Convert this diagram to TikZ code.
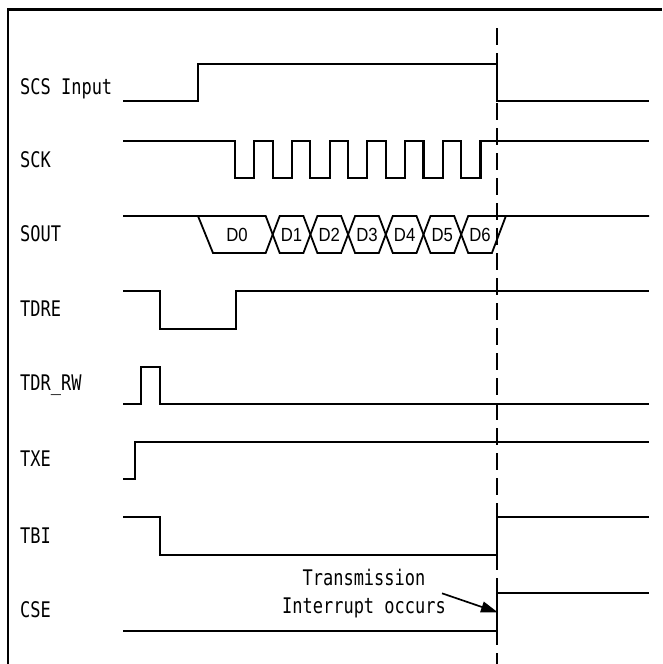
\documentclass[tikz,border=0pt]{standalone}
\usepackage{fontspec}
\newfontfamily\labfont[FakeStretch=0.79]{DejaVu Sans Mono}
\newfontfamily\datafont[FakeStretch=0.88]{Liberation Sans}
\usetikzlibrary{arrows.meta}
\begin{document}
\begin{tikzpicture}[x=1pt,y=-1pt,
  sig/.style={line width=2.1pt, line join=miter},
  bus/.style={line width=1.8pt, line join=miter},
  lab/.style={anchor=west, inner sep=0pt, font=\labfont\fontsize{21.5}{24}\selectfont},
  dat/.style={inner sep=0pt, font=\datafont\fontsize{19}{22}\selectfont}]
\useasboundingbox (0,0) rectangle (662,664);
\fill[white] (0,0) rectangle (662,664);
% frame
\draw[line width=2.1pt] (8,664) -- (8,9.5) -- (662,9.5);
% dashed marker
\draw[line width=1.7pt, dash pattern=on 17pt off 8pt] (497,28) -- (497,664);
% labels
\node[lab] (lscs) at (20,89) {SCS Input};
\node[lab] (lsck) at (20,160) {SCK};
\node[lab] (lsout) at (20,234) {SOUT};
\node[lab] (ltdre) at (20,309) {TDRE};
\node[lab] (ltdrrw) at (20,385) {TDR\_RW};
\node[lab] (ltxe) at (20,459) {TXE};
\node[lab] (ltbi) at (20,536) {TBI};
\node[lab] (lcse) at (20,610) {CSE};
% SCS Input
\draw[sig] (123,101) -- (198,101) -- (198,64) -- (497,64) -- (497,101) -- (649,101);
% SCK
\draw[sig] (123,141) -- (235,141) -- (235,178) -- (254.3,178) -- (254.3,141) -- (272.7,141) -- (272.7,178) -- (292,178) -- (292,141) -- (310.4,141) -- (310.4,178) -- (329.7,178) -- (329.7,141) -- (348.1,141) -- (348.1,178) -- (367.4,178) -- (367.4,141) -- (385.8,141) -- (385.8,178) -- (405.1,178) -- (405.1,141) -- (423.5,141) -- (423.5,178) -- (442.8,178) -- (442.8,141) -- (461.2,141) -- (461.2,178) -- (480.5,178) -- (480.5,141) -- (649,141);
% SOUT
\draw[bus] (123,216) -- (265.7,216) -- (279.7,253) -- (303.4,253) -- (317.4,216) -- (341.1,216) -- (355.1,253) -- (378.8,253) -- (392.8,216) -- (416.5,216) -- (430.5,253) -- (454.2,253) -- (468.2,216) -- (649,216);
\draw[bus] (198,216) -- (213,253) -- (265.7,253) -- (279.7,216) -- (303.4,216) -- (317.4,253) -- (341.1,253) -- (355.1,216) -- (378.8,216) -- (392.8,253) -- (416.5,253) -- (430.5,216) -- (454.2,216) -- (468.2,253) -- (491.9,253) -- (505.9,216);
\node[dat] (d0) at (237,235) {D0};
\node[dat] (d1) at (291.5,235) {D1};
\node[dat] (d2) at (329.25,235) {D2};
\node[dat] (d3) at (366.95,235) {D3};
\node[dat] (d4) at (404.65,235) {D4};
\node[dat] (d5) at (442.35,235) {D5};
\node[dat] (d6) at (480.05,235) {D6};
% TDRE
\draw[sig] (123,291) -- (160.3,291) -- (160.3,329) -- (235.7,329) -- (235.7,291) -- (649,291);
% TDR_RW
\draw[sig] (123,404.3) -- (141.3,404.3) -- (141.3,366.7) -- (160.3,366.7) -- (160.3,404.3) -- (649,404.3);
% TXE
\draw[sig] (123,479.3) -- (135.3,479.3) -- (135.3,442.3) -- (649,442.3);
% TBI
\draw[sig] (123,517.3) -- (160.3,517.3) -- (160.3,555) -- (497,555) -- (497,517.3) -- (649,517.3);
% CSE
\draw[sig] (123,630.7) -- (497,630.7) -- (497,592.7) -- (649,592.7);
% annotation
\node[lab, anchor=center, align=center, font=\labfont\fontsize{21.5}{28}\selectfont] (note) at (364,594) {Transmission\\Interrupt occurs};
\coordinate (as) at (442,593.3);
\coordinate (ae) at (498,612.5);
\draw[line width=1.7pt, -{Triangle[length=17pt,width=11pt]}] (as) -- (ae);
\end{tikzpicture}
\end{document}
